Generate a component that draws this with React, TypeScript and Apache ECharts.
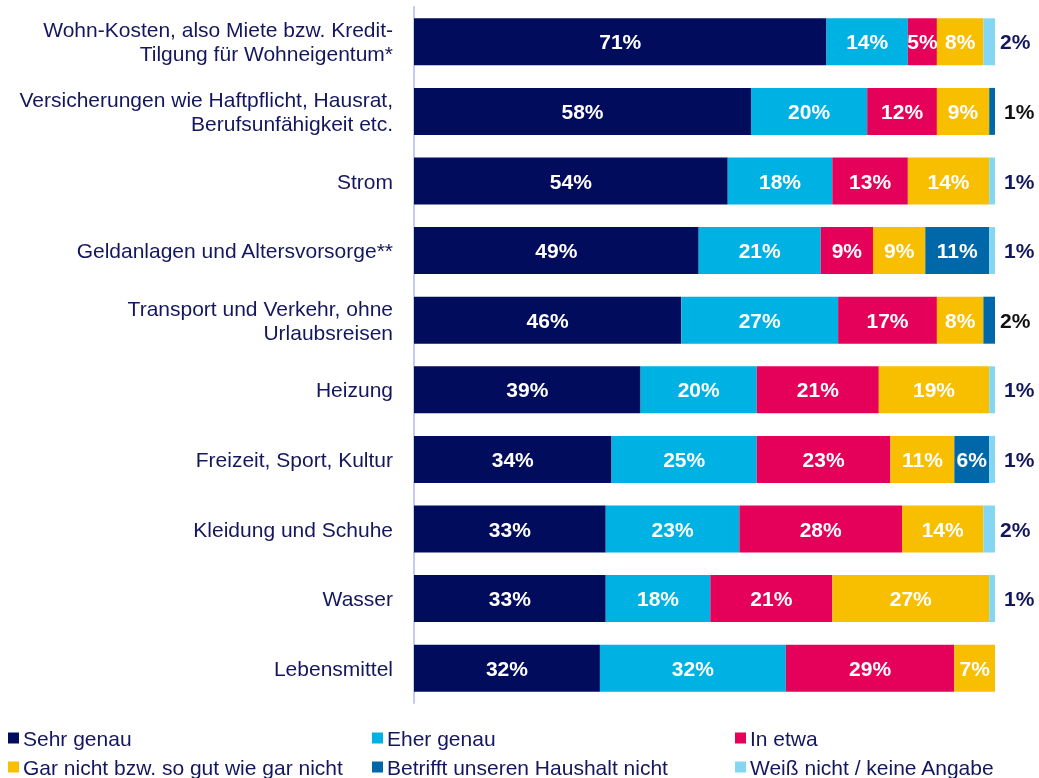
import React, { useEffect, useRef } from "react";
import * as echarts from "echarts";

const categories = [
  "Wohn-Kosten, also Miete bzw. Kredit-\nTilgung für Wohneigentum*",
  "Versicherungen wie Haftpflicht, Hausrat,\nBerufsunfähigkeit etc.",
  "Strom",
  "Geldanlagen und Altersvorsorge**",
  "Transport und Verkehr, ohne\nUrlaubsreisen",
  "Heizung",
  "Freizeit, Sport, Kultur",
  "Kleidung und Schuhe",
  "Wasser",
  "Lebensmittel",
];

const seriesNames = [
  "Sehr genau",
  "Eher genau",
  "In etwa",
  "Gar nicht bzw. so gut wie gar nicht",
  "Betrifft unseren Haushalt nicht",
  "Weiß nicht / keine Angabe",
];

const sehrGenau = [71, 58, 54, 49, 46, 39, 34, 33, 33, 32];
const eherGenau = [14, 20, 18, 21, 27, 20, 25, 23, 18, 32];
const inEtwa = [5, 12, 13, 9, 17, 21, 23, 28, 21, 29];
const garNicht = [8, 9, 14, 9, 8, 19, 11, 14, 27, 7];
const betrifftNicht = [0, 1, 0, 11, 2, 0, 6, 0, 0, 0];
const weissNicht = [2, 0, 1, 1, 0, 1, 1, 2, 1, 0];

const colors = ["#020c5c", "#00b2e3", "#e5005a", "#f8be00", "#0068a8", "#84d7f3"];
const outsideLabelColors = ["#fff", "#fff", "#fff", "#fff", "#111111", "#14175e"];

const FONT = "'Liberation Sans', Arial, sans-serif";
const NAVY_TEXT = "#14175e";

export default function App() {
  const ref = useRef<HTMLDivElement>(null);

  useEffect(() => {
    if (!ref.current) return;
    const chart = echarts.init(ref.current, undefined, { renderer: "svg" });
    const allData = [sehrGenau, eherGenau, inEtwa, garNicht, betrifftNicht, weissNicht];

    const series = allData.map((arr, si) => ({
      name: seriesNames[si],
      type: "bar",
      stack: "total",
      barWidth: 47,
      itemStyle: { color: colors[si] },
      data: arr.map((v) => {
        const outside = si >= 4 && v > 0 && v <= 2;
        return {
          value: v,
          label: outside
            ? {
                show: true,
                position: "right",
                distance: v === 1 ? 9 : 5,
                color: outsideLabelColors[si],
                fontSize: 21,
                fontWeight: "bold",
                fontFamily: FONT,
                formatter: (p: any) => (p.value > 0 ? p.value + "%" : ""),
              }
            : {
                show: v > 0,
                position: "inside",
                color: "#ffffff",
                fontSize: 21,
                fontWeight: "bold",
                fontFamily: FONT,
                formatter: (p: any) => (p.value > 0 ? p.value + "%" : ""),
              },
        };
      }),
    }));

    const legendPos = [
      { left: 8, top: 727 },
      { left: 372, top: 727 },
      { left: 735, top: 727 },
      { left: 8, top: 756 },
      { left: 372, top: 756 },
      { left: 735, top: 756 },
    ];

    const legends = seriesNames.map((n, i) => ({
      data: [n],
      left: legendPos[i].left,
      top: legendPos[i].top,
      padding: 0,
      icon: "rect",
      itemWidth: 11,
      itemHeight: 11,
      itemGap: 0,
      selectedMode: false,
      textStyle: {
        color: NAVY_TEXT,
        fontSize: 21,
        fontFamily: FONT,
        lineHeight: 22,
        padding: [0, 0, 0, -1],
      },
    }));

    chart.setOption({
      animation: false,
      grid: { left: 414, right: 44, top: 7, bottom: 75, containLabel: false },
      xAxis: {
        type: "value",
        min: 0,
        max: 100,
        show: false,
      },
      yAxis: {
        type: "category",
        data: categories,
        inverse: true,
        axisLine: { show: true, lineStyle: { color: "#c6caf2", width: 2 } },
        axisTick: { show: false },
        axisLabel: {
          color: NAVY_TEXT,
          fontSize: 21,
          fontFamily: FONT,
          lineHeight: 24,
          margin: 21,
          align: "right",
        },
      },
      legend: legends,
      series,
    });

    return () => chart.dispose();
  }, []);

  return (
    <div
      ref={ref}
      style={{ position: "fixed", left: 0, top: 0, width: 1039, height: 778 }}
    />
  );
}
